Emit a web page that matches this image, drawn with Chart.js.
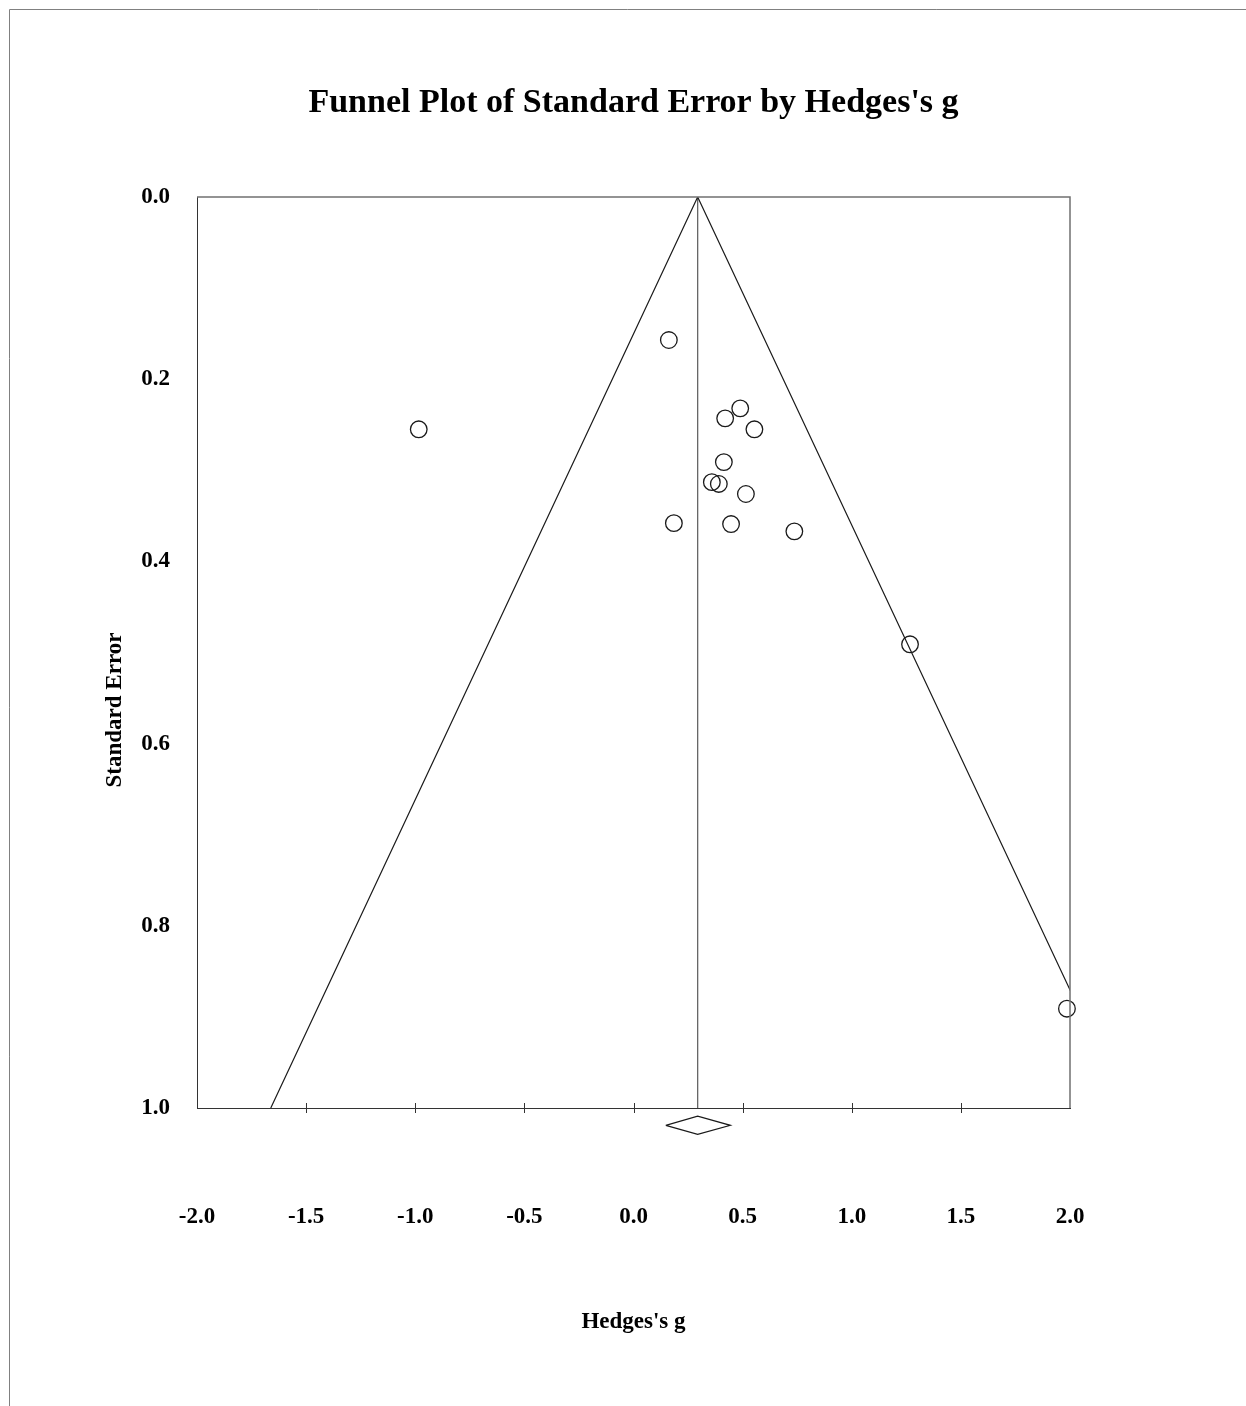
<!DOCTYPE html>
<html>
<head>
<meta charset="utf-8">
<script src="https://cdn.jsdelivr.net/npm/chart.js@4.4.1/dist/chart.umd.min.js"></script>
<style>
  html, body { margin: 0; padding: 0; background: #fff; }
  canvas { display: block; }
</style>
</head>
<body>
<canvas id="funnelChart" width="1246" height="1406"></canvas>
<script>
// Studies: Hedges's g and standard error
const hedgesG = [0.162, -0.984, 0.489, 0.420, 0.554, 0.414, 0.359, 0.391, 0.515, 0.185, 0.447, 0.737, 1.267, 1.986];
const stdError = [0.157, 0.255, 0.232, 0.243, 0.255, 0.291, 0.313, 0.315, 0.326, 0.358, 0.359, 0.367, 0.491, 0.891];

// Pooled estimate and 95% funnel limits
const pooledG = 0.294;
const funnelG = [-1.662, 0.294, 2.254];
const funnelSE = [1.0, 0.0, 1.0];

// Summary diamond drawn just under the axis
const diamondG = [0.148, 0.294, 0.444, 0.294, 0.148];
const diamondY = [1.019, 1.009, 1.019, 1.029, 1.019];

const xTicks = [-2.0, -1.5, -1.0, -0.5, 0.0, 0.5, 1.0, 1.5, 2.0];
const yTicks = [0.0, 0.2, 0.4, 0.6, 0.8, 1.0];

const serif = "'Liberation Serif', 'Times New Roman', serif";
Chart.defaults.font.family = serif;
Chart.defaults.color = "#000";

const toXY = (xs, ys) => xs.map((x, i) => ({ x: x, y: ys[i] }));

// page frame, top/right of plot box, crossing tick marks, y title
const extras = {
  id: "extras",
  beforeDraw(chart) {
    const ctx = chart.ctx;
    ctx.save();
    ctx.strokeStyle = "#808080";
    ctx.lineWidth = 1;
    ctx.beginPath();
    ctx.moveTo(9.5, 1406);
    ctx.lineTo(9.5, 9.5);
    ctx.lineTo(1246, 9.5);
    ctx.stroke();
    ctx.restore();
  },
  afterDraw(chart) {
    const ctx = chart.ctx;
    const a = chart.chartArea;
    const xs = chart.scales.x;
    ctx.save();
    ctx.strokeStyle = "#707070";
    ctx.lineWidth = 1.5;
    ctx.beginPath();
    ctx.moveTo(a.left, a.top);
    ctx.lineTo(a.right, a.top);
    ctx.lineTo(a.right, a.bottom);
    ctx.stroke();

    ctx.strokeStyle = "#333";
    ctx.lineWidth = 1;
    xTicks.slice(1, -1).forEach(v => {
      const px = Math.round(xs.getPixelForValue(v)) + 0.5;
      ctx.beginPath();
      ctx.moveTo(px, a.bottom - 5);
      ctx.lineTo(px, a.bottom + 5);
      ctx.stroke();
    });

    ctx.translate(115, 710);
    ctx.rotate(-Math.PI / 2);
    ctx.fillStyle = "#000";
    ctx.font = "bold 23px " + serif;
    ctx.textAlign = "center";
    ctx.textBaseline = "middle";
    ctx.fillText("Standard Error", 0, 0);
    ctx.restore();
  }
};

new Chart(document.getElementById("funnelChart"), {
  type: "scatter",
  data: {
    datasets: [
      {
        label: "Studies",
        data: toXY(hedgesG, stdError),
        pointStyle: "circle",
        pointRadius: 8.3,
        pointBorderWidth: 1.3,
        borderColor: "#1a1a1a",
        backgroundColor: "rgba(0,0,0,0)",
        clip: false
      },
      {
        label: "Funnel",
        data: toXY(funnelG, funnelSE),
        showLine: true,
        pointRadius: 0,
        borderColor: "#1a1a1a",
        borderWidth: 1.2
      },
      {
        label: "Pooled",
        data: toXY([pooledG, pooledG], [0, 1]),
        showLine: true,
        pointRadius: 0,
        borderColor: "#666",
        borderWidth: 1.3
      },
      {
        label: "Summary",
        data: toXY(diamondG, diamondY),
        showLine: true,
        pointRadius: 0,
        borderColor: "#1a1a1a",
        borderWidth: 1.2,
        clip: false
      }
    ]
  },
  options: {
    responsive: false,
    animation: false,
    devicePixelRatio: 1,
    layout: { padding: { left: 21, right: 0, top: 0, bottom: 0 } },
    plugins: {
      legend: { display: false },
      tooltip: { enabled: false },
      title: {
        display: true,
        text: "Funnel Plot of Standard Error by Hedges's g",
        font: { size: 34, weight: "bold", family: serif },
        color: "#000",
        padding: { top: 82.5, bottom: 73.7 }
      }
    },
    scales: {
      x: {
        type: "linear",
        min: -2,
        max: 2,
        afterBuildTicks: s => { s.ticks = xTicks.map(v => ({ value: v })); },
        afterFit: s => { s.height = 298; },
        grid: { display: false },
        border: { display: true, color: "#333", width: 1 },
        ticks: {
          padding: 87,
          font: { size: 23, weight: "bold", family: serif },
          color: "#000",
          callback: v => Number(v).toFixed(1)
        },
        title: {
          display: true,
          text: "Hedges's g",
          font: { size: 23, weight: "bold", family: serif },
          color: "#000",
          padding: { top: 0, bottom: 70 }
        }
      },
      y: {
        type: "linear",
        reverse: true,
        min: 0,
        max: 1,
        afterBuildTicks: s => { s.ticks = yTicks.map(v => ({ value: v })); },
        afterFit: s => { s.width = 176; },
        grid: { display: false },
        border: { display: true, color: "#333", width: 1 },
        ticks: {
          padding: 19,
          font: { size: 23, weight: "bold", family: serif },
          color: "#000",
          callback: v => Number(v).toFixed(1)
        }
      },
      yRight: {
        type: "linear",
        position: "right",
        min: 0,
        max: 1,
        afterFit: s => { s.width = 176; },
        grid: { display: false },
        border: { display: false },
        ticks: { display: false }
      }
    }
  },
  plugins: [extras]
});
</script>
</body>
</html>
